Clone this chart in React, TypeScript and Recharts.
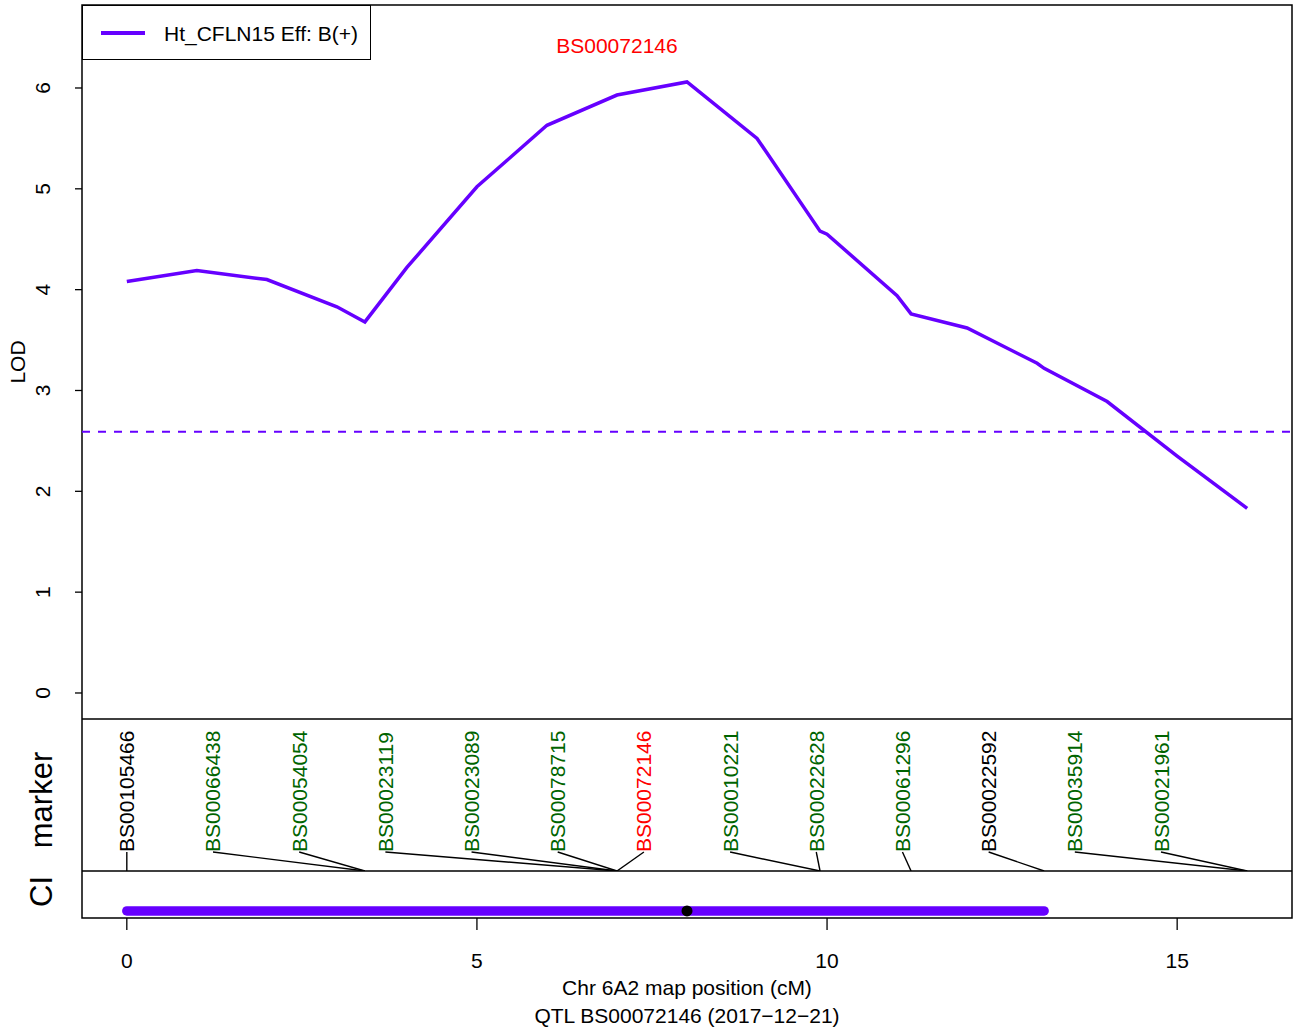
import {
  ComposedChart, Line, Scatter, XAxis, YAxis, ReferenceLine, ReferenceArea, ReferenceDot, Legend,
} from 'recharts'

// LOD profile along the chromosome (cM)
const POS = [0, 1, 2, 3, 3.4, 4, 5, 6, 7, 8, 9, 9.9, 10, 11, 11.2, 12, 13, 13.1, 14, 15, 16]
const LOD = [4.08, 4.19, 4.1, 3.83, 3.68, 4.22, 5.02, 5.63, 5.93, 6.06, 5.5, 4.58, 4.55, 3.94, 3.76, 3.62, 3.27, 3.22, 2.89, 2.35, 1.83]
const THRESHOLD = 2.59

const MARKER_NAMES = [
  'BS00105466', 'BS00066438', 'BS00054054', 'BS00023119', 'BS00023089', 'BS00078715', 'BS00072146',
  'BS00010221', 'BS00022628', 'BS00061296', 'BS00022592', 'BS00035914', 'BS00021961',
]
const MARKER_POS = [0, 3.4, 3.4, 7, 7, 7, 7, 9.9, 9.9, 11.2, 13.1, 16, 16]
const MARKER_COLORS = [
  'black', 'darkgreen', 'darkgreen', 'darkgreen', 'darkgreen', 'darkgreen', 'red',
  'darkgreen', 'darkgreen', 'darkgreen', 'black', 'darkgreen', 'darkgreen',
]
const PEAK_MARKER = 'BS00072146'

const CI_LO = 0
const CI_HI = 13.1
const CI_PEAK = 8

const X_TICKS = [0, 5, 10, 15]
const Y_TICKS = [0, 1, 2, 3, 4, 5, 6]

const SERIES_NAME = 'Ht_CFLN15 Eff: B(+)'
const X_TITLE = 'Chr 6A2 map position (cM)'
const SUBTITLE = 'QTL BS00072146 (2017\u221212\u221221)'

const PURPLE = '#6600ff'
const FONT = '"Liberation Sans", Arial, sans-serif'
const W = 1295
const X_DOMAIN: [number, number] = [-0.64, 16.64]
const LOD_DOMAIN: [number, number] = [-0.258, 6.823]
const MARGIN = { top: 0, right: 3, bottom: 0, left: 0 }

// layout rows inside the lower panels (fraction of panel height)
const LABEL_ROW = 0.125
const CI_ROW = 0.15

const lodData = POS.map((pos, i) => ({ pos, lod: LOD[i] }))
// labels are spread evenly over the map, then tied back to their real position
const labelData = MARKER_NAMES.map((name, i) => ({
  x: (i * 16) / 13,
  y: LABEL_ROW,
  name,
  color: MARKER_COLORS[i],
  pos: MARKER_POS[i],
}))
const ciData = [{ x: CI_LO, y: CI_ROW }, { x: CI_HI, y: CI_ROW }]
const peakPos = MARKER_POS[MARKER_NAMES.indexOf(PEAK_MARKER)]

function Frame({ y1, y2 }: { y1: number; y2: number }) {
  return (
    <ReferenceArea x1={X_DOMAIN[0]} x2={X_DOMAIN[1]} y1={y1} y2={y2}
      fill="none" stroke="#000" strokeWidth={1.5} ifOverflow="visible" />
  )
}

function SideLabel(text: string, size: number, baseX: number, shift = 0) {
  return (props: any) => {
    const vb = props.viewBox
    const cy = vb.y + vb.height / 2 + shift
    return (
      <text x={baseX} y={cy} transform={`rotate(-90 ${baseX} ${cy})`} textAnchor="middle"
        fontFamily={FONT} fontSize={size} fill="#000">{text}</text>
    )
  }
}

function LodTick(props: any) {
  const bx = props.x - 25
  return (
    <text x={bx} y={props.y} transform={`rotate(-90 ${bx} ${props.y})`} textAnchor="middle"
      fontFamily={FONT} fontSize={21} fill="#000">{props.payload.value}</text>
  )
}

function LegendBox() {
  return (
    <div style={{ width: 289, height: 55, border: '1.5px solid #000', boxSizing: 'border-box', background: '#fff' }}>
      <svg width={287} height={52}>
        <line x1={18} x2={62} y1={27} y2={27} stroke={PURPLE} strokeWidth={4} />
        <text x={81} y={35} fontFamily={FONT} fontSize={21} fill="#000">{SERIES_NAME}</text>
      </svg>
    </div>
  )
}

function MarkerLabel(props: any) {
  const { cx, cy } = props
  const p = props.payload ?? props
  return (
    <text x={cx} y={cy} transform={`rotate(-90 ${cx} ${cy})`} dominantBaseline="central"
      fontFamily={FONT} fontSize={21} fill={p.color}>{p.name}</text>
  )
}

function XTick(props: any) {
  return (
    <text x={props.x} y={props.y + 38} textAnchor="middle" fontFamily={FONT} fontSize={21} fill="#000">
      {props.payload.value}
    </text>
  )
}

function XTitle(props: any) {
  const vb = props.viewBox
  const cx = vb.x + vb.width / 2
  return (
    <g fontFamily={FONT} fontSize={21} fill="#000" textAnchor="middle">
      <text x={cx} y={vb.y + 77}>{X_TITLE}</text>
      <text x={cx} y={vb.y + 105}>{SUBTITLE}</text>
    </g>
  )
}

export default function App() {
  return (
    <div style={{ position: 'absolute', left: 0, top: 0, width: W, background: '#fff' }}>
      {/* LOD panel */}
      <ComposedChart width={W} height={719} data={lodData} margin={{ ...MARGIN, top: 5 }}>
        <XAxis dataKey="pos" type="number" domain={X_DOMAIN} allowDataOverflow hide />
        <YAxis type="number" domain={LOD_DOMAIN} allowDataOverflow ticks={Y_TICKS} width={82}
          tickSize={7} tickMargin={0} axisLine={false} tickLine={{ stroke: '#000', strokeWidth: 1.3 }}
          tick={LodTick} label={SideLabel('LOD', 21, 25)} />
        <Frame y1={LOD_DOMAIN[0]} y2={LOD_DOMAIN[1]} />
        <ReferenceLine y={THRESHOLD} stroke={PURPLE} strokeWidth={2} strokeDasharray="8 8" />
        <ReferenceLine x={peakPos} stroke="none"
          label={(p: any) => (
            <text x={p.viewBox.x} y={p.viewBox.y + 48} textAnchor="middle" fontFamily={FONT}
              fontSize={21} fill="red">{PEAK_MARKER}</text>
          )} />
        <Line type="linear" dataKey="lod" name={SERIES_NAME} stroke={PURPLE} strokeWidth={3.5}
          dot={false} isAnimationActive={false} />
        <Legend layout="horizontal" verticalAlign="middle" align="center" content={LegendBox}
          wrapperStyle={{ left: 82, top: 5, width: 289, height: 55 }} />
      </ComposedChart>

      {/* marker panel */}
      <ComposedChart width={W} height={152} margin={MARGIN}>
        <XAxis dataKey="x" type="number" domain={X_DOMAIN} allowDataOverflow hide />
        <YAxis dataKey="y" type="number" domain={[0, 1]} width={82} tick={false} tickLine={false}
          axisLine={false} label={SideLabel('marker', 31, 52, 5)} />
        <Frame y1={0} y2={1} />
        {labelData.map((m, i) => (
          <ReferenceLine key={i} segment={[{ x: m.x, y: LABEL_ROW }, { x: m.pos, y: 0 }]}
            stroke="#000" strokeWidth={1.4} />
        ))}
        <Scatter data={labelData} dataKey="y" shape={MarkerLabel} isAnimationActive={false} />
      </ComposedChart>

      {/* CI panel + x axis */}
      <ComposedChart width={W} height={159} margin={MARGIN}>
        <XAxis dataKey="x" type="number" domain={X_DOMAIN} allowDataOverflow ticks={X_TICKS}
          height={112} tickSize={12} tickMargin={0} axisLine={false}
          tickLine={{ stroke: '#000', strokeWidth: 1.3 }} tick={XTick} label={XTitle} />
        <YAxis dataKey="y" type="number" domain={[0, 1]} width={82} tick={false} tickLine={false}
          axisLine={false} label={SideLabel('CI', 31, 52, -3)} />
        <Frame y1={0} y2={1} />
        <Line data={ciData} dataKey="y" type="linear" stroke={PURPLE} strokeWidth={9.5}
          strokeLinecap="round" dot={false} isAnimationActive={false} />
        <ReferenceDot x={CI_PEAK} y={CI_ROW} r={5.5} fill="#000" stroke="none" />
      </ComposedChart>
    </div>
  )
}
